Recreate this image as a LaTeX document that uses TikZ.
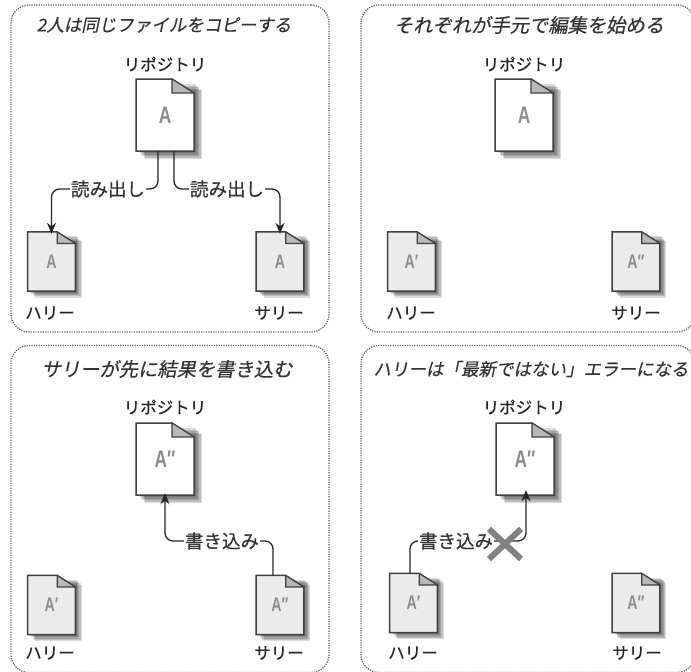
\documentclass[tikz,border=0pt]{standalone}
\usepackage{fontspec}
\usepackage{tikz}
\usetikzlibrary{positioning, arrows, arrows.meta, shapes.misc}
\newfontfamily\cjk[FakeBold=0.5]{Noto Sans CJK JP}
\newfontfamily\cjkslant[FakeSlant=0.2,FakeBold=0.4]{Noto Sans CJK JP}
\newfontfamily\docfont[FakeStretch=0.72]{Liberation Sans}

\tikzset{
  panelbox/.style={draw=black!60,line width=1.3pt,dash pattern=on 1.2pt off 1.2pt,rounded corners=18pt,minimum width=318pt,minimum height=327pt},
  paneltitle/.style={font=\cjkslant\fontsize{17.5}{20}\selectfont,text=black!80,inner sep=0pt},
  widetitle/.style={paneltitle,font=\cjkslant\fontsize{19.3}{20}\selectfont},
  whoname/.style={font=\cjk\fontsize{16.5}{20}\selectfont,text=black!85,inner sep=0pt},
  wirename/.style={font=\cjk\fontsize{18.5}{20}\selectfont,text=black!80,inner sep=1pt},
  wire/.style={draw=black!85,line width=1.3pt,rounded corners=8pt},
  wiretip/.style={wire,-{Stealth[length=11pt,width=9pt]}},
}
% one file: name, centre x, centre y, scale, fill, letter
\newcommand{\filedoc}[6]{
  \begin{scope}[shift={(#2,#3)},scale=#4]
  \foreach \s in {2,3.5,5,6.5,8}
    \fill[black,opacity=0.14] (-29+\s+1,-36+\s+3) rectangle (29+\s,36+\s);
  \draw[draw=black!75,line width=1.5pt,fill=#5] (-29,-36)--(7,-36)--(29,-22)--(29,36)--(-29,36)--cycle;
  \draw[draw=black!75,line width=1.1pt,fill=black!28] (7,-36)--(7,-22)--(29,-22)--cycle;
  \node[transform shape,minimum width=58pt,minimum height=72pt,inner sep=0pt,text=black!45,font=\docfont\bfseries\fontsize{24}{24}\selectfont] (#1) at (0,0) {#6};
  \end{scope}
}

\begin{document}
\begin{tikzpicture}[x=1pt,y=-1pt]
\useasboundingbox[fill=white] (0,0) rectangle (691,672);
% panels
\node[panelbox] (panela) at (170,168.5) {};
\node[panelbox,minimum width=334pt] (panelb) at (528,168.5) {};
\node[panelbox] (panelc) at (170,509) {};
\node[panelbox,minimum width=334pt] (paneld) at (528,509) {};
\node[paneltitle] (titlea) at (164,25) {2人は同じファイルをコピーする};
\node[widetitle] (titleb) at (529,25) {それぞれが手元で編集を始める};
\node[widetitle] (titlec) at (167,369) {サリーが先に結果を書き込む};
\node[paneltitle] (titled) at (531,369) {ハリーは「最新ではない」エラーになる};
% first panel
\filedoc{repoa}{165}{115}{1}{white}{A}
\filedoc{harrya}{51.5}{261.5}{0.82}{black!8}{A}
\filedoc{sallya}{280}{261.5}{0.82}{black!8}{A}
\node[whoname] (repolabela) at (165,64) {リポジトリ};
\node[whoname] (harrylabela) at (50,313) {ハリー};
\node[whoname] (sallylabela) at (279,313) {サリー};
\node[wirename] (reada) at (108,189) {読み出し};
\node[wirename] (readb) at (227,189) {読み出し};
\draw[wire] ([xshift=-7pt]repoa.south) |- (reada.east);
\draw[wiretip] (reada.west) -| ([yshift=-2pt]harrya.north);
\draw[wire] ([xshift=9pt]repoa.south) |- (readb.west);
\draw[wiretip] (readb.east) -| ([yshift=-2pt]sallya.north);
% second panel
\filedoc{repob}{524}{115}{1}{white}{A}
\filedoc{harryb}{411.5}{261.5}{0.82}{black!8}{A′}
\filedoc{sallyb}{636}{261.5}{0.82}{black!8}{A″}
\node[whoname] (repolabelb) at (524,64) {リポジトリ};
\node[whoname] (harrylabelb) at (411,313) {ハリー};
\node[whoname] (sallylabelb) at (636,313) {サリー};
% third panel
\filedoc{repoc}{165}{459}{1}{white}{A″}
\filedoc{harryc}{51.5}{605}{0.82}{black!8}{A′}
\filedoc{sallyc}{280}{605}{0.82}{black!8}{A″}
\node[whoname] (repolabelc) at (165,407) {リポジトリ};
\node[whoname] (harrylabelc) at (50,653) {ハリー};
\node[whoname] (sallylabelc) at (279,653) {サリー};
\node[wirename] (writec) at (222,541) {書き込み};
\draw[wire] ([xshift=-7pt]sallyc.north) |- (writec.east);
\draw[wiretip] (writec.west) -| ([yshift=2pt]repoc.south);
% fourth panel
\filedoc{repod}{525}{459}{1}{white}{A″}
\filedoc{harryd}{413.5}{603}{0.82}{black!8}{A′}
\filedoc{sallyd}{636}{603}{0.82}{black!8}{A″}
\node[whoname] (repolabeld) at (524,407) {リポジトリ};
\node[whoname] (harrylabeld) at (413,653) {ハリー};
\node[whoname] (sallylabeld) at (637,653) {サリー};
\node[wirename] (writed) at (456,541) {書き込み};
\draw[wire] ([xshift=-3.5pt]harryd.north) |- (writed.west);
\draw[wiretip] (writed.east) -| ([xshift=1pt,yshift=5pt]repod.south);
\node[cross out,draw=black!50,line width=6pt,minimum width=26pt,minimum height=24pt,inner sep=0pt] (cross) at (505,544) {};
\end{tikzpicture}
\end{document}
